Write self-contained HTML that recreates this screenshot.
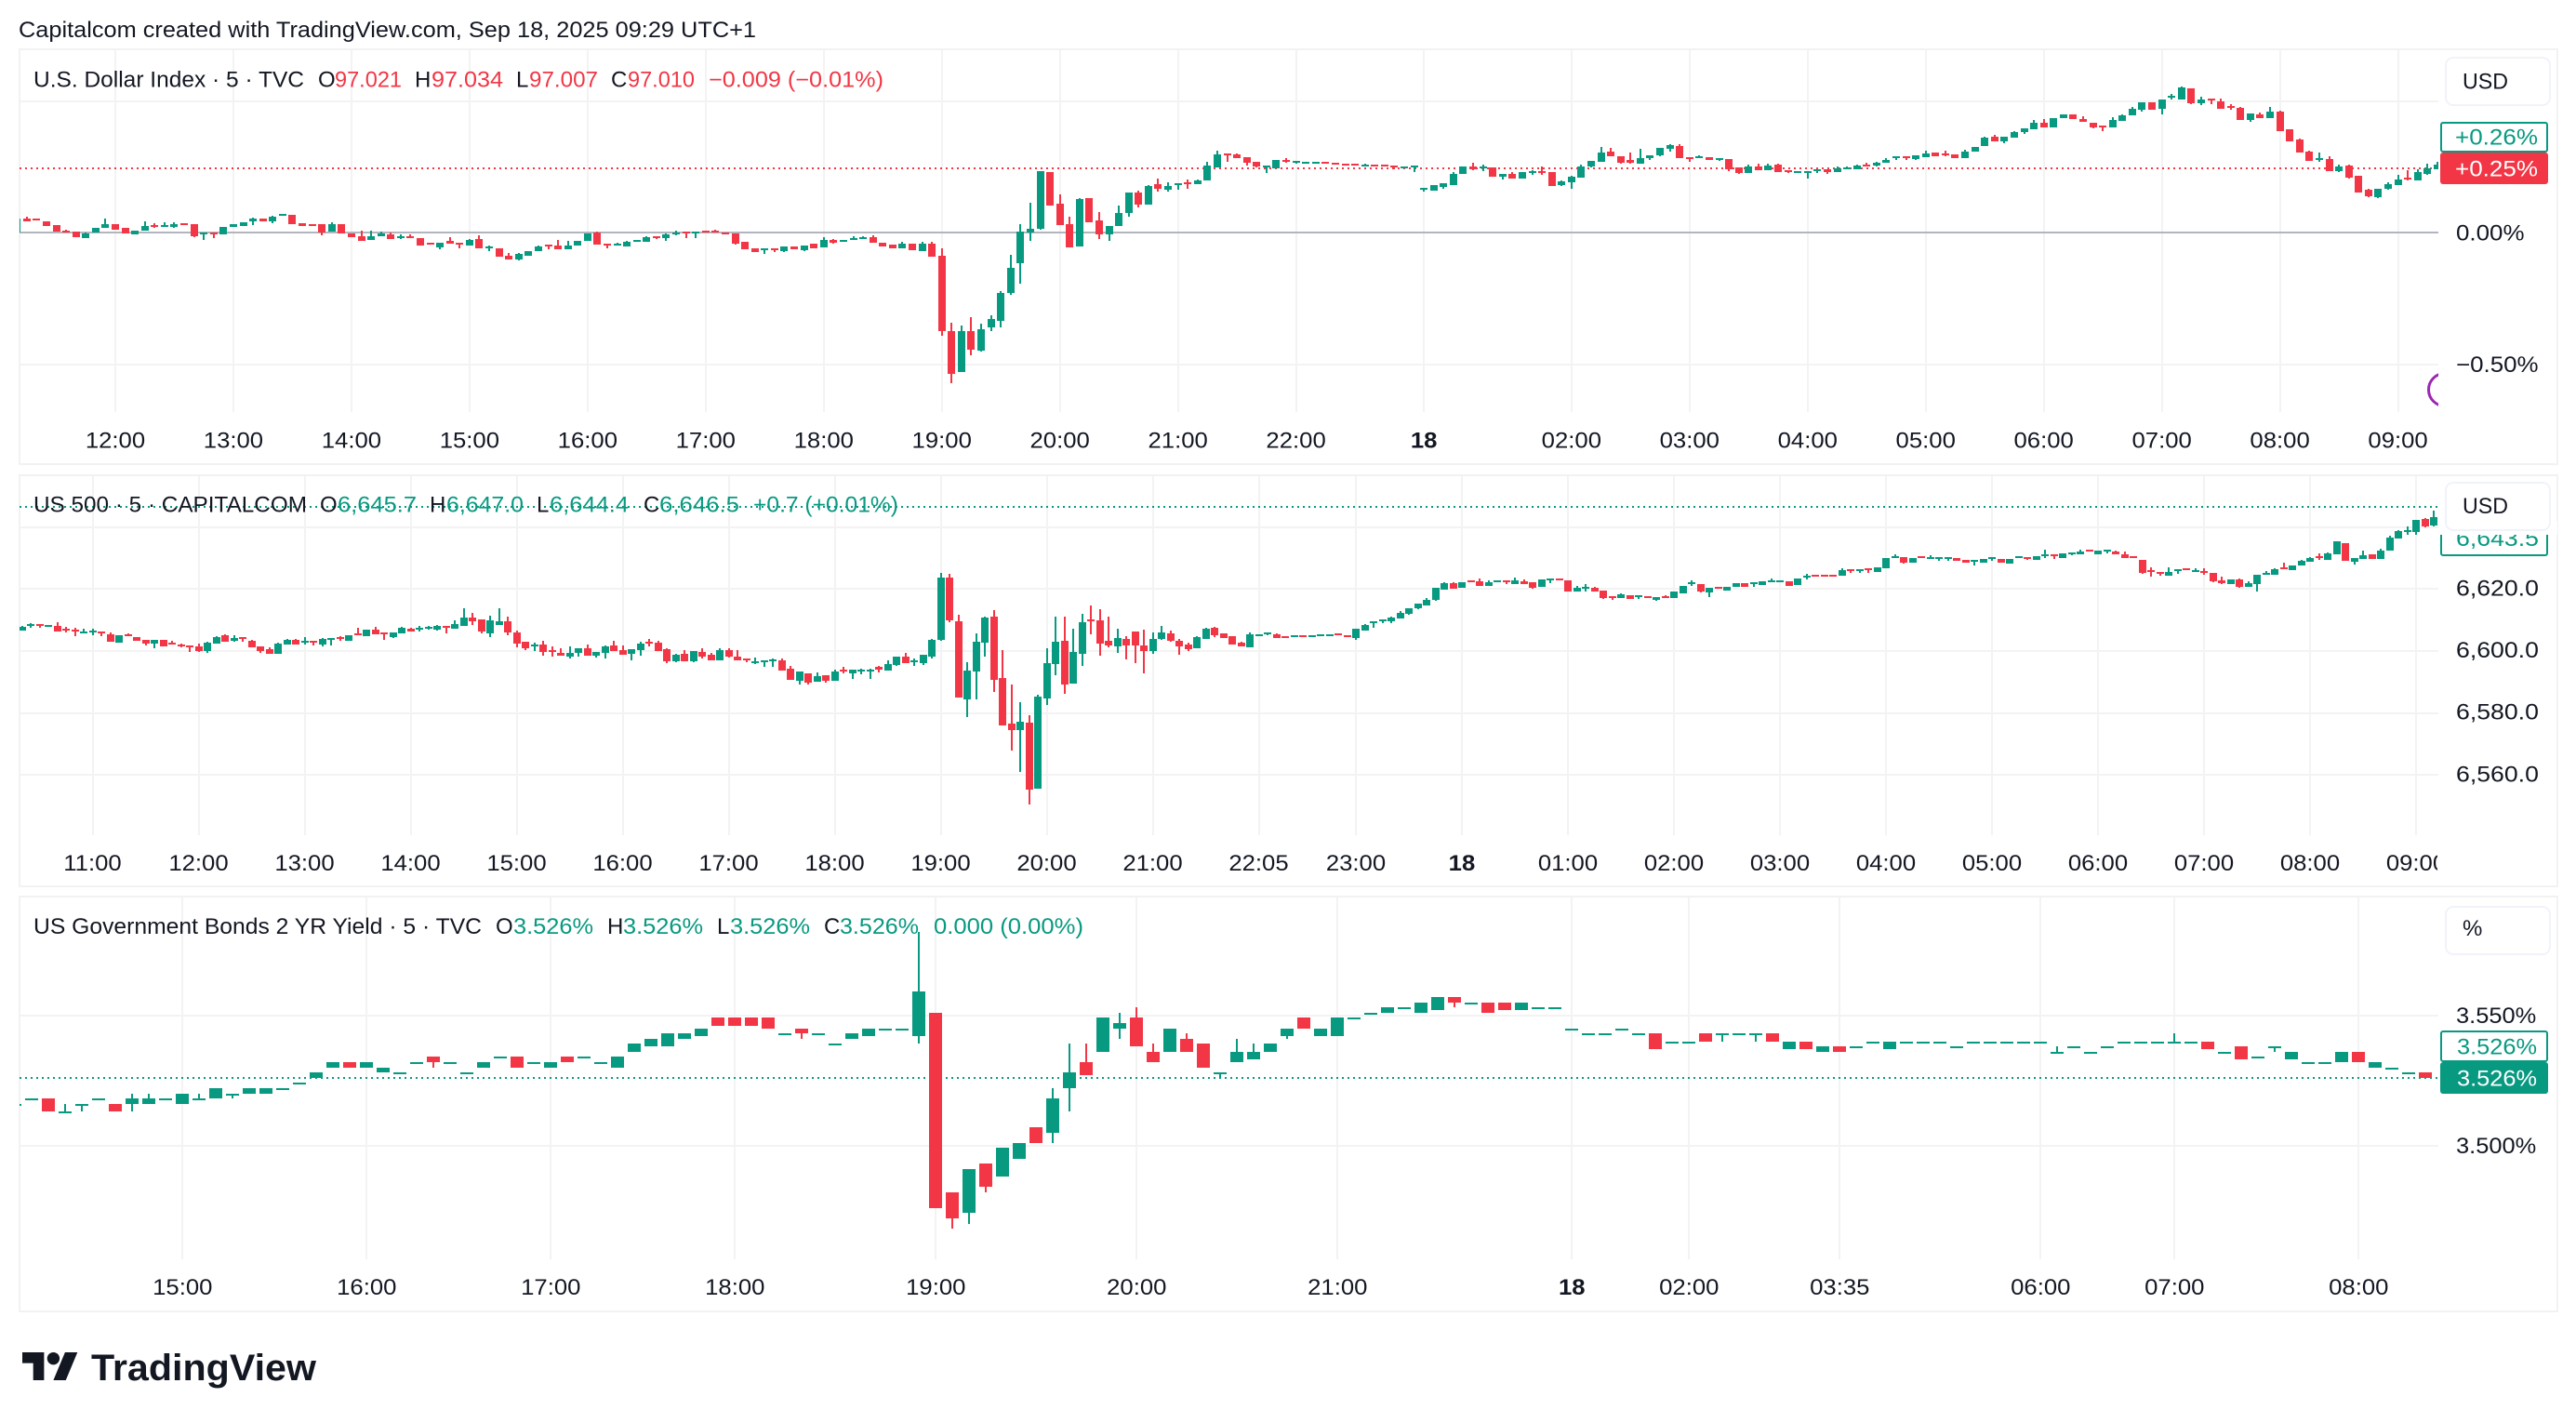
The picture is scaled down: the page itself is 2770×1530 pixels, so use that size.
<!DOCTYPE html>
<html lang="en">
<head>
<meta charset="utf-8">
<title>TradingView multi-chart snapshot</title>
<style>
html,body{margin:0;padding:0;background:#fff;width:2770px;height:1530px;overflow:hidden}
svg{display:block;font-family:"Liberation Sans",sans-serif}
text{fill:#131722;font-size:24px}
.r{fill:#f23645}.g{fill:#089981}
</style>
</head>
<body>
<svg id="root" xmlns="http://www.w3.org/2000/svg" width="2770" height="1530" viewBox="0 0 2770 1530">
<defs>
<clipPath id="clip-usd"><rect x="21" y="54" width="2601" height="389"/></clipPath>
<clipPath id="clip-spx"><rect x="21" y="512" width="2601" height="386"/></clipPath>
<clipPath id="clip-bond"><rect x="21" y="965" width="2600" height="389"/></clipPath>
<clipPath id="clip-axis"><rect x="21" y="900" width="2600" height="52"/></clipPath>
</defs>
<rect width="2770" height="1530" fill="#ffffff"/>
<text x="20" y="40" textLength="793" lengthAdjust="spacingAndGlyphs">Capitalcom created with TradingView.com, Sep 18, 2025 09:29 UTC+1</text>

<rect x="21" y="53" width="2729" height="446" fill="none" stroke="#f2f2f3" stroke-width="2"/>
<rect x="21" y="511" width="2729" height="442" fill="none" stroke="#f2f2f3" stroke-width="2"/>
<rect x="21" y="964" width="2729" height="446" fill="none" stroke="#f2f2f3" stroke-width="2"/>

<g id="usd-grid"></g>
<g id="spx-grid"></g>
<g id="bond-grid"></g>
<g id="usd-plot" clip-path="url(#clip-usd)"></g>
<g id="spx-plot" clip-path="url(#clip-spx)"></g>
<g id="bond-plot" clip-path="url(#clip-bond)"></g>
<g id="usd-axis"></g>
<g id="spx-axis" clip-path="url(#clip-axis)"></g>
<g id="bond-axis"></g>
<g id="price-axes"></g>

<g>
<text x="36" y="93.5" textLength="291" lengthAdjust="spacingAndGlyphs">U.S. Dollar Index · 5 · TVC</text>
<text x="342" y="93.5">O</text><text class="r" x="360" y="93.5" textLength="72" lengthAdjust="spacingAndGlyphs">97.021</text>
<text x="446" y="93.5">H</text><text class="r" x="464" y="93.5" textLength="77" lengthAdjust="spacingAndGlyphs">97.034</text>
<text x="555" y="93.5">L</text><text class="r" x="569" y="93.5" textLength="74" lengthAdjust="spacingAndGlyphs">97.007</text>
<text x="657" y="93.5">C</text><text class="r" x="675" y="93.5" textLength="72" lengthAdjust="spacingAndGlyphs">97.010</text>
<text class="r" x="762" y="93.5" textLength="188" lengthAdjust="spacingAndGlyphs">−0.009 (−0.01%)</text>
</g>
<g>
<text x="36" y="550.5" textLength="294" lengthAdjust="spacingAndGlyphs">US 500 · 5 · CAPITALCOM</text>
<text x="344" y="550.5">O</text><text class="g" x="363" y="550.5" textLength="85" lengthAdjust="spacingAndGlyphs">6,645.7</text>
<text x="462" y="550.5">H</text><text class="g" x="480" y="550.5" textLength="83" lengthAdjust="spacingAndGlyphs">6,647.0</text>
<text x="577" y="550.5">L</text><text class="g" x="591" y="550.5" textLength="85" lengthAdjust="spacingAndGlyphs">6,644.4</text>
<text x="692" y="550.5">C</text><text class="g" x="709" y="550.5" textLength="86" lengthAdjust="spacingAndGlyphs">6,646.5</text>
<text class="g" x="810" y="550.5" textLength="156" lengthAdjust="spacingAndGlyphs">+0.7 (+0.01%)</text>
</g>
<g>
<text x="36" y="1004" textLength="482" lengthAdjust="spacingAndGlyphs">US Government Bonds 2 YR Yield · 5 · TVC</text>
<text x="533" y="1004">O</text><text class="g" x="552" y="1004" textLength="86" lengthAdjust="spacingAndGlyphs">3.526%</text>
<text x="653" y="1004">H</text><text class="g" x="670" y="1004" textLength="86" lengthAdjust="spacingAndGlyphs">3.526%</text>
<text x="771" y="1004">L</text><text class="g" x="785" y="1004" textLength="86" lengthAdjust="spacingAndGlyphs">3.526%</text>
<text x="886" y="1004">C</text><text class="g" x="903" y="1004" textLength="85" lengthAdjust="spacingAndGlyphs">3.526%</text>
<text class="g" x="1004" y="1004" textLength="161" lengthAdjust="spacingAndGlyphs">0.000 (0.00%)</text>
</g>

<g>
<rect x="2625" y="132" width="114" height="31" rx="2" fill="#fff" stroke="#089981" stroke-width="2"/>
<text class="g" x="2640" y="155.5" textLength="89" lengthAdjust="spacingAndGlyphs">+0.26%</text>
<rect x="2624" y="164" width="116" height="34" rx="3" fill="#f23645"/>
<text style="fill:#fff" x="2640" y="189.5" textLength="89" lengthAdjust="spacingAndGlyphs">+0.25%</text>
</g>
<g>
<rect x="2625" y="566" width="114" height="31" rx="2" fill="#fff" stroke="#089981" stroke-width="2"/>
<text class="g" x="2641" y="587" textLength="89" lengthAdjust="spacingAndGlyphs">6,643.5</text>
<rect x="2622" y="560" width="128" height="15" fill="#fff"/>
</g>
<g>
<rect x="2625" y="1109" width="114" height="32" rx="2" fill="#fff" stroke="#089981" stroke-width="2"/>
<text class="g" x="2642" y="1133.5" textLength="86" lengthAdjust="spacingAndGlyphs">3.526%</text>
<rect x="2624" y="1142" width="116" height="34" rx="3" fill="#089981"/>
<text style="fill:#fff" x="2642" y="1167.5" textLength="86" lengthAdjust="spacingAndGlyphs">3.526%</text>
</g>

<g>
<rect x="2630" y="62" width="112" height="51" rx="8" fill="#fff" stroke="#f0f3fa" stroke-width="2"/>
<text x="2648" y="95.5" textLength="49" lengthAdjust="spacingAndGlyphs">USD</text>
</g>
<g>
<rect x="2630" y="519" width="112" height="51" rx="8" fill="#fff" stroke="#f0f3fa" stroke-width="2"/>
<text x="2648" y="552" textLength="49" lengthAdjust="spacingAndGlyphs">USD</text>
</g>
<g>
<rect x="2630" y="975" width="112" height="51" rx="8" fill="#fff" stroke="#f0f3fa" stroke-width="2"/>
<text x="2648" y="1006">%</text>
</g>

<g>
<g transform="translate(24,1447.3) scale(1.67)" fill="#131722">
<path d="M14 22H7V11H0V4h14v18zM28 22h-8l7.5-18h8L28 22z"/><circle cx="20" cy="8" r="4"/>
</g>
<text x="98" y="1484" style="font-size:40px;font-weight:bold" textLength="242" lengthAdjust="spacingAndGlyphs">TradingView</text>
</g>
</svg>
<script>
/* ---------- U.S. Dollar Index (percent change scale) ---------- */
const usdOpen=[
-.001,.054,.052,.044,.027,.008,.004,-.021,-.001,.017,
.031,.017,-.007,.006,.03,.021,.02,.037,.031,-.007,
.001,-.007,.022,.026,.044,.054,.041,.065,.068,.034,
.031,.032,.002,.031,-.004,-.013,-.028,-.013,-.008,-.018,
-.015,-.02,-.038,-.055,-.033,-.04,-.051,-.025,-.06,-.06,
-.087,-.104,-.089,-.072,-.045,-.051,-.064,-.051,-.033,-.001,
-.042,-.05,-.053,-.035,-.037,-.013,-.021,-.006,.002,-.004,
.006,.006,.001,-.004,-.034,-.061,-.067,-.061,-.071,-.054,
-.066,-.044,-.057,-.028,-.035,-.028,-.025,-.017,-.039,-.047,
-.06,-.042,-.071,-.044,-.09,-.373,-.529,-.373,-.447,-.362,
-.337,-.228,-.118,-.001,.013,.229,.109,.031,-.054,.13,
.045,-.008,.024,.073,.151,.105,.183,.162,.179,.19,
.183,.197,.247,.3,.296,.286,.268,.247,.243,.275,
.264,.263,.263,.269,.266,.262,.262,.251,.258,.258,
.255,.244,.248,.163,.159,.173,.181,.223,.251,.244,
.248,.212,.223,.205,.227,.234,.23,.181,.19,.209,
.251,.269,.308,.29,.276,.262,.283,.294,.319,.329,
.287,.283,.287,.276,.28,.248,.227,.251,.237,.258,
.237,.227,.227,.234,.241,.23,.241,.241,.258,.255,
.266,.283,.29,.28,.287,.304,.301,.296,.284,.308,
.327,.365,.347,.362,.382,.393,.418,.398,.435,.448,
.432,.418,.406,.398,.425,.444,.467,.496,.469,.511,
.506,.549,.49,.509,.499,.48,.474,.428,.449,.435,
.461,.393,.354,.308,.28,.28,.234,.255,.214,.161,
.135,.165,.181,.207,.198,.224,.24];
const usdHigh=[
.054,.061,.054,.044,.03,.01,.004,-.001,.019,.052,
.031,.017,.008,.041,.037,.039,.04,.037,.031,-.001,
.001,.022,.031,.04,.058,.054,.065,.07,.068,.034,
.031,.032,.038,.031,-.004,.008,.008,.005,.001,-.007,
-.007,-.02,-.038,-.038,-.017,-.04,-.024,-.009,-.048,-.06,
-.079,-.078,-.07,-.048,-.045,-.028,-.031,-.031,-.005,.005,
-.042,-.038,-.032,-.027,-.013,-.013,-.004,.006,.002,.002,
.006,.012,.001,-.004,-.034,-.061,-.061,-.061,-.054,-.054,
-.048,-.044,-.019,-.025,-.03,-.013,-.013,-.011,-.039,-.047,
-.037,-.042,-.037,-.037,-.061,-.341,-.355,-.323,-.348,-.316,
-.221,-.086,.031,.112,.232,.229,.144,.059,.13,.13,
.077,.024,.101,.151,.158,.179,.204,.19,.186,.201,
.201,.268,.31,.3,.3,.286,.268,.254,.275,.282,
.271,.269,.269,.269,.266,.262,.262,.262,.258,.258,
.255,.251,.255,.17,.181,.188,.23,.251,.266,.258,
.248,.223,.23,.23,.237,.251,.23,.198,.216,.258,
.273,.326,.322,.29,.304,.319,.294,.322,.336,.336,
.287,.294,.287,.283,.28,.248,.258,.261,.261,.261,
.237,.234,.234,.241,.241,.251,.251,.258,.266,.269,
.283,.29,.29,.294,.312,.304,.312,.296,.314,.326,
.363,.372,.365,.386,.395,.427,.432,.435,.45,.448,
.443,.418,.406,.438,.448,.478,.496,.496,.506,.526,
.555,.549,.517,.509,.509,.487,.478,.452,.455,.478,
.463,.393,.357,.31,.304,.289,.257,.258,.214,.165,
.165,.191,.218,.236,.241,.261,.268];
const usdLow=[
-.001,.042,.046,.025,.002,.002,-.018,-.021,-.001,.017,
.011,-.004,-.007,.006,.018,.021,.017,.031,-.016,-.028,
-.021,-.007,.022,.026,.03,.044,.037,.065,.032,.026,
.025,-.011,.002,-.004,-.018,-.032,-.028,-.013,-.025,-.025,
-.022,-.051,-.044,-.064,-.044,-.06,-.051,-.06,-.07,-.092,
-.103,-.107,-.089,-.072,-.064,-.065,-.064,-.051,-.033,-.046,
-.06,-.05,-.053,-.035,-.037,-.025,-.033,-.011,-.021,-.021,
0,0,-.004,-.047,-.064,-.074,-.081,-.074,-.074,-.063,
-.07,-.059,-.057,-.042,-.035,-.028,-.025,-.039,-.054,-.06,
-.06,-.067,-.071,-.093,-.391,-.571,-.529,-.465,-.451,-.373,
-.359,-.235,-.196,-.033,.009,.101,.027,-.058,-.054,.038,
-.026,-.033,.024,.059,.094,.105,.155,.155,.162,.165,
.183,.197,.247,.268,.282,.254,.247,.225,.243,.264,
.261,.263,.263,.263,.258,.256,.256,.251,.251,.251,
.242,.244,.23,.156,.159,.166,.181,.223,.237,.234,
.212,.202,.205,.205,.219,.219,.177,.177,.166,.209,
.248,.269,.29,.262,.262,.262,.276,.29,.308,.283,
.269,.283,.276,.273,.234,.223,.227,.237,.237,.23,
.227,.227,.205,.227,.223,.23,.241,.241,.251,.251,
.266,.276,.276,.276,.287,.29,.29,.284,.284,.308,
.327,.345,.34,.362,.376,.393,.398,.398,.435,.43,
.419,.394,.386,.398,.425,.444,.461,.467,.447,.504,
.506,.486,.483,.486,.471,.467,.428,.419,.436,.435,
.386,.347,.303,.273,.269,.234,.229,.204,.152,.133,
.131,.161,.181,.198,.198,.22,.24];
const usdClose=[
.054,.042,.046,.025,.002,.002,-.018,-.005,.019,.033,
.011,-.004,.008,.026,.025,.028,.032,.031,-.015,-.001,
-.004,.022,.031,.04,.052,.044,.059,.07,.032,.026,
.025,.001,.032,-.004,-.018,-.032,-.013,-.005,-.025,-.013,
-.022,-.051,-.044,-.038,-.044,-.046,-.028,-.06,-.054,-.092,
-.103,-.083,-.07,-.054,-.05,-.065,-.048,-.031,-.005,-.046,
-.048,-.044,-.035,-.027,-.017,-.019,-.008,.001,-.004,.002,
0,0,-.004,-.044,-.064,-.074,-.061,-.067,-.054,-.063,
-.048,-.059,-.027,-.039,-.03,-.021,-.017,-.039,-.054,-.06,
-.041,-.067,-.044,-.093,-.373,-.536,-.373,-.444,-.366,-.33,
-.231,-.136,.002,.013,.232,.101,.027,-.058,.126,.038,
-.008,.024,.073,.151,.105,.176,.165,.176,.186,.183,
.197,.254,.296,.293,.282,.264,.25,.254,.275,.268,
.271,.269,.269,.263,.258,.256,.256,.258,.251,.251,
.248,.251,.255,.17,.181,.188,.223,.251,.241,.251,
.212,.223,.205,.23,.234,.227,.177,.195,.212,.251,
.273,.304,.29,.266,.266,.283,.294,.322,.333,.283,
.28,.29,.276,.283,.241,.227,.251,.237,.255,.23,
.23,.234,.234,.241,.23,.244,.248,.255,.251,.266,
.276,.29,.283,.294,.301,.29,.294,.284,.307,.326,
.36,.345,.365,.382,.395,.418,.398,.435,.45,.43,
.419,.399,.401,.427,.444,.47,.496,.467,.506,.519,
.552,.49,.506,.501,.471,.473,.428,.452,.436,.459,
.386,.347,.303,.273,.284,.234,.25,.208,.152,.137,
.165,.183,.2,.2,.229,.243,.257];
const usdTimeLabels=["12:00","13:00","14:00","15:00","16:00","17:00","18:00","19:00","20:00","21:00","22:00","18","02:00","03:00","04:00","05:00","06:00","07:00","08:00","09:00"];
const usdTimeBars=[10,22,34,46,58,70,82,94,106,118,130,143,158,170,182,194,206,218,230,242];
const usdGridValues=[0.5,-0.5];
const usdAxisValues=[0,-0.5];
const usdAxisLabels=["0.00%","−0.50%"];
const usdBaseValue=0;
const usdLastValue=0.244;

/* ---------- US 500 (price scale) ---------- */
const spxOpen=[
6606.7,6608,6608.6,6607.9,6608.1,6607.3,6606.9,6605.8,6606,6606.2,
6605.4,6602.7,6605.4,6604.6,6603.7,6602.5,6603.7,6602.7,6602.2,6601.8,
6601.5,6599.9,6602.5,6605.1,6603.3,6604.5,6603.3,6601.5,6600.6,6599.1,
6602.1,6603.6,6602.7,6603.3,6602.1,6603.6,6604.5,6603.3,6605.7,6604.8,
6606.9,6606,6604.5,6605.7,6607.2,6606.9,6607.2,6606.9,6608.1,6607.2,
6608.1,6610.8,6610.2,6605.7,6608.4,6609.6,6606,6603,6601.5,6602.1,
6600.3,6599.4,6598.2,6599.4,6600.9,6598.5,6599.4,6601.8,6600.3,6599.1,
6600.3,6603,6602.7,6600.6,6596.7,6599.1,6596.7,6599.7,6598.8,6597,
6600.3,6598.2,6597.6,6596.1,6596.4,6596.7,6597,6594.3,6590.4,6592.8,
6590.1,6592.2,6590.4,6594,6592.8,6593.4,6593.4,6594.9,6593.7,6595.5,
6598.2,6596.4,6596.1,6598.2,6603.6,6623.7,6609.6,6584.4,6593.4,6602.7,
6611.1,6591.3,6576.6,6574.5,6576.9,6555.6,6584.7,6595.8,6603.3,6589.5,
6599.1,6610.2,6609.9,6603.3,6601.5,6603.9,6606.3,6601.8,6600,6603.9,
6605.7,6603.3,6602.1,6600.9,6603.9,6607.5,6605.7,6604.8,6602.7,6601.2,
6604.8,6605.4,6605.4,6604.8,6604.5,6605.1,6604.6,6604.9,6604.9,6605.6,
6605,6604.2,6606.6,6609,6609.6,6609.5,6610.5,6612,6613.8,6614.7,
6616.5,6619.8,6621.9,6620.4,6622.8,6622.5,6621,6622.2,6622.8,6621.6,
6622.5,6622.2,6620.7,6622.8,6623.4,6622.8,6619.2,6620.1,6620.4,6619.5,
6617.7,6617.1,6618,6617.4,6617.7,6616.5,6617.7,6617.1,6618.6,6621.6,
6621.6,6618.9,6620.7,6619.5,6620.7,6621.9,6621.6,6621.3,6622.2,6622.2,
6622.5,6621.3,6623.7,6624.6,6624.6,6624.6,6624.3,6626.4,6625.8,6626.7,
6625.5,6626.7,6630,6630.3,6628.5,6630.6,6629.7,6629.7,6629.7,6630,
6629.5,6628.8,6628.5,6629.7,6629.7,6628.2,6630,6630.3,6629.4,6630.6,
6631.2,6630,6631.2,6631.2,6632.7,6631.2,6632.1,6632.1,6631.2,6630.6,
6629.4,6626.1,6625.5,6624.3,6625.8,6626.7,6625.5,6625.8,6625.2,6622.8,
6621.6,6623.1,6620.7,6621.6,6624.6,6624.6,6627,6626.1,6627.6,6628.8,
6630.6,6629.4,6631.2,6634.8,6628.8,6629.7,6631.2,6629.7,6632.4,6636.3,
6638.4,6638.4,6642.6,6640.5];
const spxHigh=[
6608,6609,6608.6,6608.4,6609.3,6607.7,6607.4,6607.2,6607.2,6606.2,
6606,6605.1,6605.7,6604.6,6603.7,6603.7,6603.7,6603.3,6602.5,6601.8,
6602.3,6603,6604.8,6605.4,6605.1,6604.5,6603.6,6601.5,6601.2,6602.7,
6603.9,6603.9,6604.5,6603.3,6604.2,6604.2,6604.8,6605.1,6607.5,6606.8,
6607.8,6606,6606,6607.8,6607.5,6608.1,6608.1,6608.4,6608.1,6609.9,
6613.8,6612.3,6610.2,6611.4,6613.8,6611.1,6606.6,6603,6602.7,6603.3,
6601.5,6600.9,6601.5,6600.9,6602.1,6599.7,6601.8,6603.3,6601.8,6600.6,
6603,6603.9,6603.3,6600.9,6599.1,6600.3,6600,6600.9,6599.4,6600.9,
6600.9,6600.3,6597.6,6597.9,6597,6597.6,6597.6,6595.2,6593.4,6592.8,
6593.1,6592.2,6594,6594.9,6594,6594.3,6594.3,6595.2,6597,6598.2,
6599.4,6597.6,6598.8,6603.9,6625.2,6624.9,6611.7,6596.4,6605.7,6611.1,
6613.2,6600.3,6589.2,6583.5,6579.3,6585.9,6600.9,6611.1,6611.1,6607.2,
6612,6614.7,6613.5,6611.1,6607.2,6604.8,6606.3,6606.9,6606,6608.1,
6606.6,6603.9,6602.7,6604.8,6607.5,6607.8,6605.7,6604.8,6603,6606,
6605.4,6606,6605.7,6604.8,6605.1,6605.1,6605,6605.3,6605.3,6605.6,
6605,6607.2,6608.6,6609.5,6610.2,6611,6612.8,6613.8,6615.4,6617.1,
6620.4,6622.2,6622.1,6622.2,6622.8,6623.4,6622.8,6622.8,6622.8,6623.7,
6623.1,6622.2,6623.1,6623.4,6623.4,6622.8,6621,6621.6,6620.7,6619.5,
6617.7,6618.6,6618,6618,6617.7,6617.4,6618,6619.2,6621,6622.8,
6621.6,6620.4,6620.7,6620.7,6621.9,6621.9,6622.2,6622.5,6623.4,6622.8,
6622.5,6623.4,6624.9,6624.6,6624.6,6624.6,6626.7,6626.4,6626.4,6626.7,
6627,6630,6631.2,6630.3,6630,6630.6,6630.9,6630.3,6630.3,6630,
6629.5,6629.4,6629.7,6630.3,6629.7,6629.7,6630.6,6630.3,6630.6,6632.7,
6631.2,6631.5,6631.8,6632.7,6632.7,6632.4,6632.7,6632.4,6632.1,6630.6,
6629.4,6627,6625.5,6627,6626.4,6626.7,6626.7,6626.7,6625.2,6624,
6623.1,6623.4,6622.5,6624.6,6625.8,6626.7,6628.5,6627.6,6629.4,6630.3,
6631.5,6631.8,6635.4,6634.8,6630,6632.4,6631.2,6633,6637.2,6639,
6640.2,6642.3,6642.9,6645.3];
const spxLow=[
6606.7,6607.6,6607.5,6607.9,6606.3,6606,6604.8,6605.6,6605.2,6604.8,
6603,6602.7,6605,6603.4,6601.8,6601,6601.5,6602.1,6601.3,6599.8,
6599.7,6599.4,6602.5,6603,6603,6603,6601.2,6599.4,6599.1,6599.1,
6602.1,6602.1,6602.1,6601.8,6601.5,6601.8,6603.3,6603.3,6605.1,6604.8,
6605.4,6603.6,6604.2,6605.7,6606.3,6606.3,6606.9,6606.6,6605.7,6607.2,
6608.1,6608.4,6605.7,6604.5,6608.4,6605.1,6601.2,6600.3,6600,6598.5,
6598.2,6598.5,6597.6,6598.2,6598.5,6597.9,6597.6,6600,6598.8,6597,
6598.5,6601.5,6600,6596.1,6596.4,6596.7,6596.4,6597.6,6597,6597,
6597.9,6597,6596.4,6595.9,6594.9,6594.8,6593.7,6590.7,6589.2,6589.2,
6590.1,6589.8,6590.4,6592.8,6591,6592.5,6591,6593.1,6593.7,6595.2,
6596.1,6595.2,6595.5,6597.6,6603.3,6609.3,6585,6578.7,6584.4,6598.2,
6586.8,6576,6567.9,6561,6550.5,6555.6,6582.6,6592.2,6586.2,6589.5,
6595.2,6605.4,6598.5,6601.2,6599.4,6597.3,6596.1,6592.8,6599.1,6603.6,
6603,6598.8,6600,6600.9,6603.9,6604.5,6604.2,6602.1,6601.5,6601.2,
6604.8,6605.1,6604.2,6604.2,6604.5,6604.5,6604.6,6604.9,6604.9,6605.2,
6604.5,6603.7,6606.6,6607.5,6609,6609,6610.5,6611.7,6613.5,6614.7,
6616.2,6619.8,6620.1,6620.4,6622.2,6621,6621,6622.2,6621.6,6621.6,
6621.6,6620.1,6620.7,6621.9,6622.8,6619.2,6619.2,6619.2,6619.2,6616.8,
6616.5,6617.1,6616.8,6616.8,6617.1,6616.2,6617.1,6617.1,6618.6,6621,
6618.9,6617.4,6620.1,6619.5,6620.7,6620.7,6620.7,6621.3,6622.2,6622.2,
6621,6621.3,6623.1,6624,6624,6624,6624.3,6625.2,6625.2,6625.2,
6625.5,6626.7,6630,6628.2,6628.5,6630,6629.7,6629.1,6629.1,6629.1,
6628.5,6627.6,6628.5,6629.1,6628.5,6628.2,6630,6629.4,6629.4,6630,
6629.7,6630,6630.9,6631.2,6632.1,6631.2,6631.5,6631.2,6630,6630,
6624.9,6624,6624.3,6624.3,6624.9,6626.1,6625.5,6624.6,6622.2,6621.6,
6621.6,6620.4,6620.7,6619.2,6624.6,6624.6,6626.4,6626.1,6627.6,6628.8,
6629.4,6629.4,6631.2,6629.1,6627.9,6629.7,6629.7,6629.7,6632.4,6636.3,
6637.5,6637.5,6639.9,6640.2];
const spxClose=[
6607.7,6608.6,6608.2,6608.4,6606.3,6606.8,6606.4,6606.3,6606.5,6605.8,
6603,6605.1,6605,6603.4,6602.5,6603.7,6601.5,6602.1,6601.6,6601.1,
6600.1,6602.7,6604.5,6603,6604.2,6604,6601.2,6600.1,6599.1,6602.4,
6603.6,6602.1,6603.3,6602.7,6603.9,6604.2,6603.9,6605.1,6605.1,6606.8,
6605.4,6605.4,6606,6607.5,6606.3,6607.5,6607.8,6608.1,6607.5,6608.7,
6610.8,6609.6,6606.3,6609.9,6609.6,6606,6602.4,6600.9,6602.1,6599.7,
6599.7,6598.5,6599.4,6600.9,6598.5,6599.7,6601.5,6600,6598.8,6600.6,
6602.4,6602.4,6600,6596.7,6598.8,6596.7,6600,6598.2,6597,6600.3,
6598.2,6597,6597,6596.7,6597,6597.3,6593.7,6590.7,6593.4,6589.8,
6591.9,6590.4,6593.4,6593.4,6594,6594,6594,6594,6595.8,6598.2,
6596.1,6597,6598.8,6603.6,6623.7,6609.9,6585,6593.7,6603,6610.8,
6590.7,6576,6574.5,6577.2,6555.3,6585.3,6596.1,6603,6589.2,6599.7,
6609.3,6609.6,6602.4,6601.8,6604.2,6601.8,6601.8,6600,6603.9,6606,
6603.3,6601.5,6600.6,6604.5,6607.2,6605.1,6604.2,6602.1,6601.5,6605.4,
6605.4,6606,6604.2,6604.2,6605.1,6604.5,6605,6605.3,6605.3,6605.2,
6604.5,6607.2,6608.4,6609.5,6610.2,6610.9,6612.3,6613.8,6615.4,6616.5,
6620.4,6621.9,6620.1,6622.2,6622.2,6621,6622.2,6622.8,6622.2,6622.8,
6621.6,6620.4,6623.1,6623.4,6622.8,6619.2,6620.4,6620.7,6619.2,6617.1,
6617.1,6618.3,6616.8,6618,6617.1,6617.4,6617.1,6619.2,6621,6622.2,
6619.2,6620.4,6620.1,6620.7,6621.9,6620.7,6622.2,6622.5,6622.8,6622.8,
6621,6623.4,6624.3,6624,6624,6624,6626.1,6625.8,6626.4,6626.1,
6627,6630,6630.6,6628.5,6630,6630,6630.3,6630.3,6630.3,6629.1,
6628.5,6629.4,6629.7,6630.3,6628.5,6629.7,6630.6,6629.7,6630.6,6631.2,
6630.6,6631.5,6631.8,6632.1,6632.1,6632.4,6632.7,6631.2,6630,6630,
6625.2,6625.5,6624.9,6625.5,6626.4,6626.1,6626.1,6625.2,6622.5,6621.9,
6623.1,6620.7,6621.9,6624.6,6625.2,6626.4,6626.4,6627.6,6629.1,6630,
6630,6631.5,6635.4,6629.1,6630,6630.9,6629.7,6632.4,6636.6,6638.7,
6639,6642.3,6640.2,6643.2];
const spxTimeLabels=["11:00","12:00","13:00","14:00","15:00","16:00","17:00","18:00","19:00","20:00","21:00","22:05","23:00","18","01:00","02:00","03:00","04:00","05:00","06:00","07:00","08:00","09:00"];
const spxTimeBars=[8,20,32,44,56,68,80,92,104,116,128,140,151,163,175,187,199,211,223,235,247,259,271];
const spxGridValues=[6640,6620,6600,6580,6560];
const spxAxisValues=[6620,6600,6580,6560];
const spxAxisLabels=["6,620.0","6,600.0","6,580.0","6,560.0"];
const spxLastValue=6646.5;

/* ---------- US Government Bonds 2 YR Yield (percent yield scale) ---------- */
const bondOpen=[
3.516,3.518,3.518,3.513,3.516,3.518,3.516,3.516,3.516,3.518,
3.516,3.518,3.518,3.52,3.52,3.52,3.522,3.524,3.526,3.53,
3.532,3.53,3.528,3.528,3.532,3.534,3.532,3.528,3.53,3.534,
3.534,3.532,3.53,3.534,3.534,3.532,3.53,3.536,3.538,3.538,
3.541,3.542,3.549,3.549,3.549,3.549,3.543,3.545,3.543,3.539,
3.541,3.542,3.545,3.545,3.542,3.551,3.482,3.474,3.493,3.488,
3.495,3.507,3.505,3.522,3.532,3.536,3.545,3.549,3.536,3.536,
3.541,3.539,3.528,3.532,3.533,3.536,3.542,3.549,3.542,3.542,
3.549,3.551,3.551,3.553,3.551,3.552,3.557,3.555,3.555,3.555,
3.552,3.553,3.553,3.545,3.543,3.543,3.545,3.543,3.543,3.54,
3.54,3.543,3.543,3.543,3.543,3.543,3.537,3.54,3.536,3.538,
3.538,3.54,3.537,3.54,3.54,3.54,3.538,3.54,3.54,3.54,
3.54,3.54,3.536,3.538,3.536,3.538,3.54,3.54,3.54,3.54,
3.54,3.54,3.536,3.538,3.534,3.538,3.533,3.532,3.532,3.532,
3.536,3.53,3.53,3.528,3.528];
const bondHigh=[
3.516,3.518,3.518,3.516,3.516,3.518,3.516,3.52,3.52,3.518,
3.52,3.52,3.522,3.52,3.522,3.522,3.522,3.524,3.528,3.532,
3.532,3.532,3.53,3.528,3.532,3.534,3.532,3.528,3.532,3.534,
3.534,3.532,3.532,3.534,3.534,3.532,3.534,3.539,3.541,3.543,
3.543,3.545,3.549,3.549,3.549,3.549,3.543,3.545,3.543,3.539,
3.543,3.545,3.545,3.545,3.582,3.551,3.482,3.491,3.493,3.499,
3.501,3.507,3.522,3.539,3.539,3.549,3.551,3.553,3.539,3.545,
3.543,3.539,3.528,3.541,3.539,3.539,3.545,3.549,3.545,3.549,
3.549,3.551,3.553,3.553,3.555,3.557,3.557,3.555,3.555,3.555,
3.555,3.553,3.553,3.545,3.543,3.543,3.545,3.543,3.543,3.54,
3.54,3.543,3.543,3.543,3.543,3.543,3.54,3.54,3.538,3.538,
3.538,3.54,3.54,3.54,3.54,3.54,3.538,3.54,3.54,3.54,
3.54,3.54,3.538,3.538,3.536,3.538,3.54,3.54,3.54,3.543,
3.54,3.54,3.536,3.538,3.534,3.538,3.536,3.532,3.532,3.536,
3.536,3.532,3.53,3.528,3.528];
const bondLow=[
3.516,3.518,3.513,3.513,3.513,3.518,3.513,3.513,3.516,3.518,
3.516,3.518,3.518,3.518,3.52,3.52,3.522,3.524,3.526,3.53,
3.53,3.53,3.528,3.528,3.532,3.53,3.532,3.528,3.53,3.534,
3.53,3.532,3.53,3.532,3.534,3.532,3.53,3.536,3.538,3.538,
3.541,3.542,3.546,3.546,3.546,3.545,3.543,3.541,3.543,3.539,
3.541,3.542,3.545,3.545,3.539,3.476,3.468,3.47,3.482,3.488,
3.495,3.501,3.501,3.513,3.527,3.536,3.541,3.538,3.532,3.536,
3.536,3.53,3.526,3.532,3.533,3.536,3.541,3.545,3.542,3.542,
3.549,3.551,3.551,3.553,3.551,3.552,3.553,3.555,3.551,3.552,
3.552,3.553,3.553,3.545,3.543,3.543,3.545,3.543,3.537,3.54,
3.54,3.54,3.54,3.543,3.54,3.54,3.537,3.537,3.536,3.536,
3.538,3.54,3.537,3.54,3.54,3.54,3.538,3.54,3.54,3.54,
3.54,3.54,3.536,3.538,3.536,3.538,3.54,3.54,3.54,3.54,
3.54,3.537,3.536,3.533,3.534,3.536,3.533,3.532,3.532,3.532,
3.532,3.53,3.53,3.528,3.526];
const bondClose=[
3.516,3.518,3.513,3.513,3.516,3.518,3.513,3.518,3.518,3.518,
3.52,3.518,3.522,3.52,3.522,3.522,3.522,3.524,3.528,3.532,
3.53,3.532,3.53,3.528,3.532,3.532,3.532,3.528,3.532,3.534,
3.53,3.532,3.532,3.532,3.534,3.532,3.534,3.539,3.541,3.543,
3.543,3.545,3.546,3.546,3.546,3.545,3.543,3.543,3.543,3.539,
3.543,3.545,3.545,3.545,3.559,3.476,3.472,3.491,3.484,3.499,
3.501,3.501,3.518,3.528,3.527,3.549,3.547,3.538,3.532,3.545,
3.536,3.53,3.528,3.536,3.536,3.539,3.545,3.545,3.545,3.549,
3.549,3.551,3.553,3.553,3.555,3.557,3.555,3.555,3.551,3.552,
3.555,3.553,3.553,3.545,3.543,3.543,3.545,3.543,3.537,3.54,
3.54,3.54,3.543,3.543,3.543,3.54,3.54,3.537,3.538,3.536,
3.538,3.54,3.54,3.54,3.54,3.54,3.538,3.54,3.54,3.54,
3.54,3.54,3.536,3.538,3.536,3.538,3.54,3.54,3.54,3.54,
3.54,3.537,3.536,3.533,3.534,3.538,3.536,3.532,3.532,3.536,
3.532,3.532,3.53,3.528,3.526];
const bondTimeLabels=["15:00","16:00","17:00","18:00","19:00","20:00","21:00","18","02:00","03:35","06:00","07:00","08:00"];
const bondTimeBars=[10,21,32,43,55,67,79,93,100,109,121,129,140];
const bondGridValues=[3.55,3.5];
const bondAxisValues=[3.55,3.5];
const bondAxisLabels=["3.550%","3.500%"];
const bondLastValue=3.526;

/* ---------- axis functions ---------- */
const NS='http://www.w3.org/2000/svg';
const UP='#089981', DOWN='#f23645', GRID='#f3f3f4';
const usdX=k=>124+(k-10)*10.58;
const usdY=v=>250-v*283;
const spxX=k=>99.5+(k-8)*9.5;
const spxY=v=>700-(v-6600)*(10/3);
const bondX=k=>196.3+(k-10)*18;
const bondY=v=>1231.6-(v-3.5)*2800;
const PLOT_LEFT=21, PLOT_RIGHT=2622;

function drawCandles(id,name,open,high,low,close,xf,yf,bodyW){
  const g=document.getElementById(id);
  for(let k=0;k<close.length;k++){
    const o=open[k],c=close[k];
    const hi=Math.max(high[k],o,c),lo=Math.min(low[k],o,c);
    const col=c>=o?UP:DOWN;
    const cx=Math.round(xf(k));
    const wick=document.createElementNS(NS,'rect');
    
    
    const wt=Math.round(yf(hi)),wb=Math.round(yf(lo));
    wick.setAttribute('x',cx-1);
    wick.setAttribute('y',wt);
    wick.setAttribute('width',2);
    wick.setAttribute('height',Math.max(1,wb-wt));
    wick.setAttribute('fill',col);
    g.appendChild(wick);
    const body=document.createElementNS(NS,'rect');
    
    
    const bt=Math.round(yf(Math.max(o,c))),bb=Math.round(yf(Math.min(o,c)));
    body.setAttribute('x',cx-bodyW/2);
    body.setAttribute('y',bt);
    body.setAttribute('width',bodyW);
    body.setAttribute('height',Math.max(2,bb-bt));
    body.setAttribute('fill',col);
    g.appendChild(body);
  }
}
function drawVerticalGrid(id,bars,xf,top,bottom){
  const g=document.getElementById(id);
  bars.forEach(b=>{
    const l=document.createElementNS(NS,'rect');
    
    
    l.setAttribute('x',Math.round(xf(b))-1);
    l.setAttribute('y',top);
    l.setAttribute('width',2);
    l.setAttribute('height',bottom-top);
    l.setAttribute('fill',GRID);
    g.appendChild(l);
  });
}
function drawHorizontalGrid(id,values,yf){
  const g=document.getElementById(id);
  values.forEach(v=>{
    const l=document.createElementNS(NS,'rect');
    
    
    l.setAttribute('x',PLOT_LEFT);
    l.setAttribute('y',Math.round(yf(v))-1);
    l.setAttribute('width',PLOT_RIGHT-PLOT_LEFT);
    l.setAttribute('height',2);
    l.setAttribute('fill',GRID);
    g.appendChild(l);
  });
}
function drawTimeAxis(id,bars,labels,xf,baseline){
  const g=document.getElementById(id);
  labels.forEach((s,i)=>{
    const t=document.createElementNS(NS,'text');
    
    
    t.setAttribute('x',xf(bars[i]));
    t.setAttribute('y',baseline);
    t.setAttribute('text-anchor','middle');
    if(s==='18'){t.style.fontWeight='bold';}
    t.textContent=s;
    g.appendChild(t);
    t.setAttribute('textLength',(t.getComputedTextLength()*1.07).toFixed(1));
    t.setAttribute('lengthAdjust','spacingAndGlyphs');
  });
}
function drawPriceAxis(values,labels,yf,stretch,dy){
  const g=document.getElementById('price-axes');
  labels.forEach((s,i)=>{
    const t=document.createElementNS(NS,'text');
    
    
    t.setAttribute('x',2641);
    t.setAttribute('y',yf(values[i])+dy);
    t.textContent=s;
    g.appendChild(t);
    t.setAttribute('textLength',(t.getComputedTextLength()*stretch).toFixed(1));
    t.setAttribute('lengthAdjust','spacingAndGlyphs');
  });
}
function drawDotted(id,name,value,yf,col){
  const l=document.createElementNS(NS,'line');
  
  
  const y=Math.round(yf(value));
  l.setAttribute('x1',PLOT_LEFT);
  l.setAttribute('x2',PLOT_RIGHT);
  l.setAttribute('y1',y);
  l.setAttribute('y2',y);
  l.setAttribute('stroke',col);
  l.setAttribute('stroke-width',2);
  l.setAttribute('stroke-dasharray','2 4');
  document.getElementById(id).appendChild(l);
}

/* ---------- draw ---------- */
drawVerticalGrid('usd-grid',usdTimeBars,usdX,54,443);
drawHorizontalGrid('usd-grid',usdGridValues,usdY);
drawVerticalGrid('spx-grid',spxTimeBars,spxX,512,898);
drawHorizontalGrid('spx-grid',spxGridValues,spxY);
drawVerticalGrid('bond-grid',bondTimeBars,bondX,965,1354);
drawHorizontalGrid('bond-grid',bondGridValues,bondY);

const baseLine=document.createElementNS(NS,'rect');


baseLine.setAttribute('x',PLOT_LEFT);
baseLine.setAttribute('y',Math.round(usdY(usdBaseValue))-1);
baseLine.setAttribute('width',PLOT_RIGHT-PLOT_LEFT);
baseLine.setAttribute('height',2);
baseLine.setAttribute('fill','#b2b5be');
document.getElementById('usd-plot').appendChild(baseLine);

drawDotted('usd-plot','usd-last-price-line',usdLastValue,usdY,DOWN);
drawDotted('spx-plot','spx-last-price-line',spxLastValue,spxY,UP);
drawDotted('bond-plot','bond-last-price-line',bondLastValue,bondY,UP);

drawCandles('usd-plot','usd-candle',usdOpen,usdHigh,usdLow,usdClose,usdX,usdY,8);
drawCandles('spx-plot','spx-candle',spxOpen,spxHigh,spxLow,spxClose,spxX,spxY,8);
drawCandles('bond-plot','bond-candle',bondOpen,bondHigh,bondLow,bondClose,bondX,bondY,14);

const marker=document.createElementNS(NS,'circle');


marker.setAttribute('cx',2629);
marker.setAttribute('cy',419);
marker.setAttribute('r',17.5);
marker.setAttribute('fill','none');
marker.setAttribute('stroke','#9c27b0');
marker.setAttribute('stroke-width',3);
document.getElementById('usd-plot').appendChild(marker);

drawTimeAxis('usd-axis',usdTimeBars,usdTimeLabels,usdX,481.5);
drawTimeAxis('spx-axis',spxTimeBars,spxTimeLabels,spxX,936);
drawTimeAxis('bond-axis',bondTimeBars,bondTimeLabels,bondX,1392);
drawPriceAxis(usdAxisValues,usdAxisLabels,usdY,1.08,8.5);
drawPriceAxis(spxAxisValues,spxAxisLabels,spxY,1.11,7);
drawPriceAxis(bondAxisValues,bondAxisLabels,bondY,1.06,8.5);
</script>
</body>
</html>
